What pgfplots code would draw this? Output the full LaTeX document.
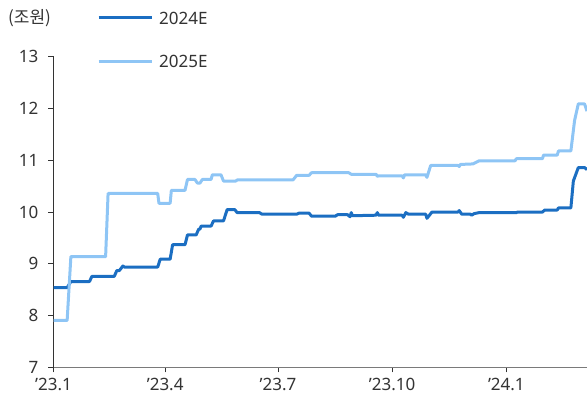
\documentclass[border=0pt]{standalone}
\usepackage{pgfplots}
\pgfplotsset{compat=1.18}
\usepackage{fontspec}
\setmainfont{Noto Sans}
\newfontfamily\krfont{Noto Sans CJK KR}
\definecolor{dark}{HTML}{1B6EC2}
\definecolor{light}{HTML}{8EC5F5}
\definecolor{txt}{HTML}{333333}
\definecolor{axisgray}{HTML}{7A7A7A}
\newcommand{\lbl}{\fontsize{17}{20}\selectfont}

% x = days since 2023-01-01
\pgfplotstableread{
x y
0 8.54
11 8.54
14 8.66
29 8.66
31 8.76
49 8.76
51 8.87
53 8.87
56 8.96
57 8.94
84 8.94
86 9.09
94 9.09
96 9.37
106 9.37
108 9.56
115 9.56
117 9.67
118 9.67
119 9.73
127 9.73
129 9.83
137 9.83
140 10.05
146 10.05
148 9.99
166 9.99
168 9.96
196 9.96
198 9.98
206 9.98
208 9.92
227 9.92
229 9.95
237 9.95
239 9.91
240 9.99
241 9.93
260 9.94
261 9.99
262 9.94
281 9.94
282 9.90
284 9.99
286 9.96
300 9.96
301 9.88
305 10.00
326 10.00
327 10.03
329 9.96
336 9.96
337 9.94
339 9.97
343 9.99
373 9.99
374 10.00
394 10.00
396 10.04
406 10.04
407 10.08
417 10.08
419 10.60
423 10.86
428 10.86
430 10.82
}\eps

\pgfplotstableread{
x y
0 7.91
11 7.91
14 9.14
42 9.14
44 10.36
84 10.36
85 10.17
94 10.17
95 10.42
106 10.42
108 10.63
114 10.63
116 10.56
118 10.56
120 10.63
127 10.63
128 10.72
135 10.72
137 10.60
147 10.60
148 10.62
193 10.62
196 10.71
206 10.71
208 10.76
238 10.76
240 10.73
260 10.73
261 10.69
262 10.70
281 10.70
282 10.66
283 10.72
300 10.72
301 10.67
304 10.90
326 10.90
327 10.88
328 10.92
338 10.93
343 10.99
372 10.99
373 11.03
394 11.03
395 11.10
406 11.10
407 11.18
417 11.18
420 11.77
423 12.09
428 12.09
430 11.95
}\epsnext

\begin{document}
\begin{tikzpicture}[x=1pt,y=1pt]
\useasboundingbox (0,0) rectangle (587,401);
\node[anchor=west, text=txt, font=\krfont\lbl, inner sep=0pt] at (8,383) {(조원)};
\begin{axis}[
  at={(53.5pt,33.5pt)}, anchor=south west,
  scale only axis, width=533.5pt, height=310.8pt,
  xmin=0, xmax=430, ymin=7, ymax=13,
  axis x line*=bottom, axis y line*=left,
  x axis line style={draw=axisgray, line width=1.6pt, -},
  y axis line style={draw=txt, line width=0.8pt, -},
  tick style={draw=txt, line width=0.8pt},
  tick align=outside, major tick length=5pt,
  xtick={0,90,181,273,365},
  xticklabels={'23.1,'23.4,'23.7,'23.10,'24.1},
  ytick={7,8,...,13},
  /pgf/number format/assume math mode=true,
  tick label style={font=\lbl, text=txt},
  yticklabel style={inner sep=0pt, xshift=-10pt},
  xticklabel style={inner sep=0pt, yshift=-5.5pt},
  clip=false,
  legend style={at={(axis description cs:0.0815,1.145)}, anchor=north west,
    draw=none, fill=none, inner sep=0pt, font=\lbl, text=txt,
    row sep=31pt, column sep=6pt,
    nodes={inner sep=0pt, text depth=0pt}},
  legend cell align=left,
  legend image code/.code={\draw[#1] (0pt,0pt) -- (53pt,0pt);},
]
\addplot[dark, line width=3pt, line join=round] table[x=x,y=y]{\eps};
\addlegendentry{2024E}
\addplot[light, line width=3pt, line join=round] table[x=x,y=y]{\epsnext};
\addlegendentry{2025E}
\end{axis}
\end{tikzpicture}
\end{document}
